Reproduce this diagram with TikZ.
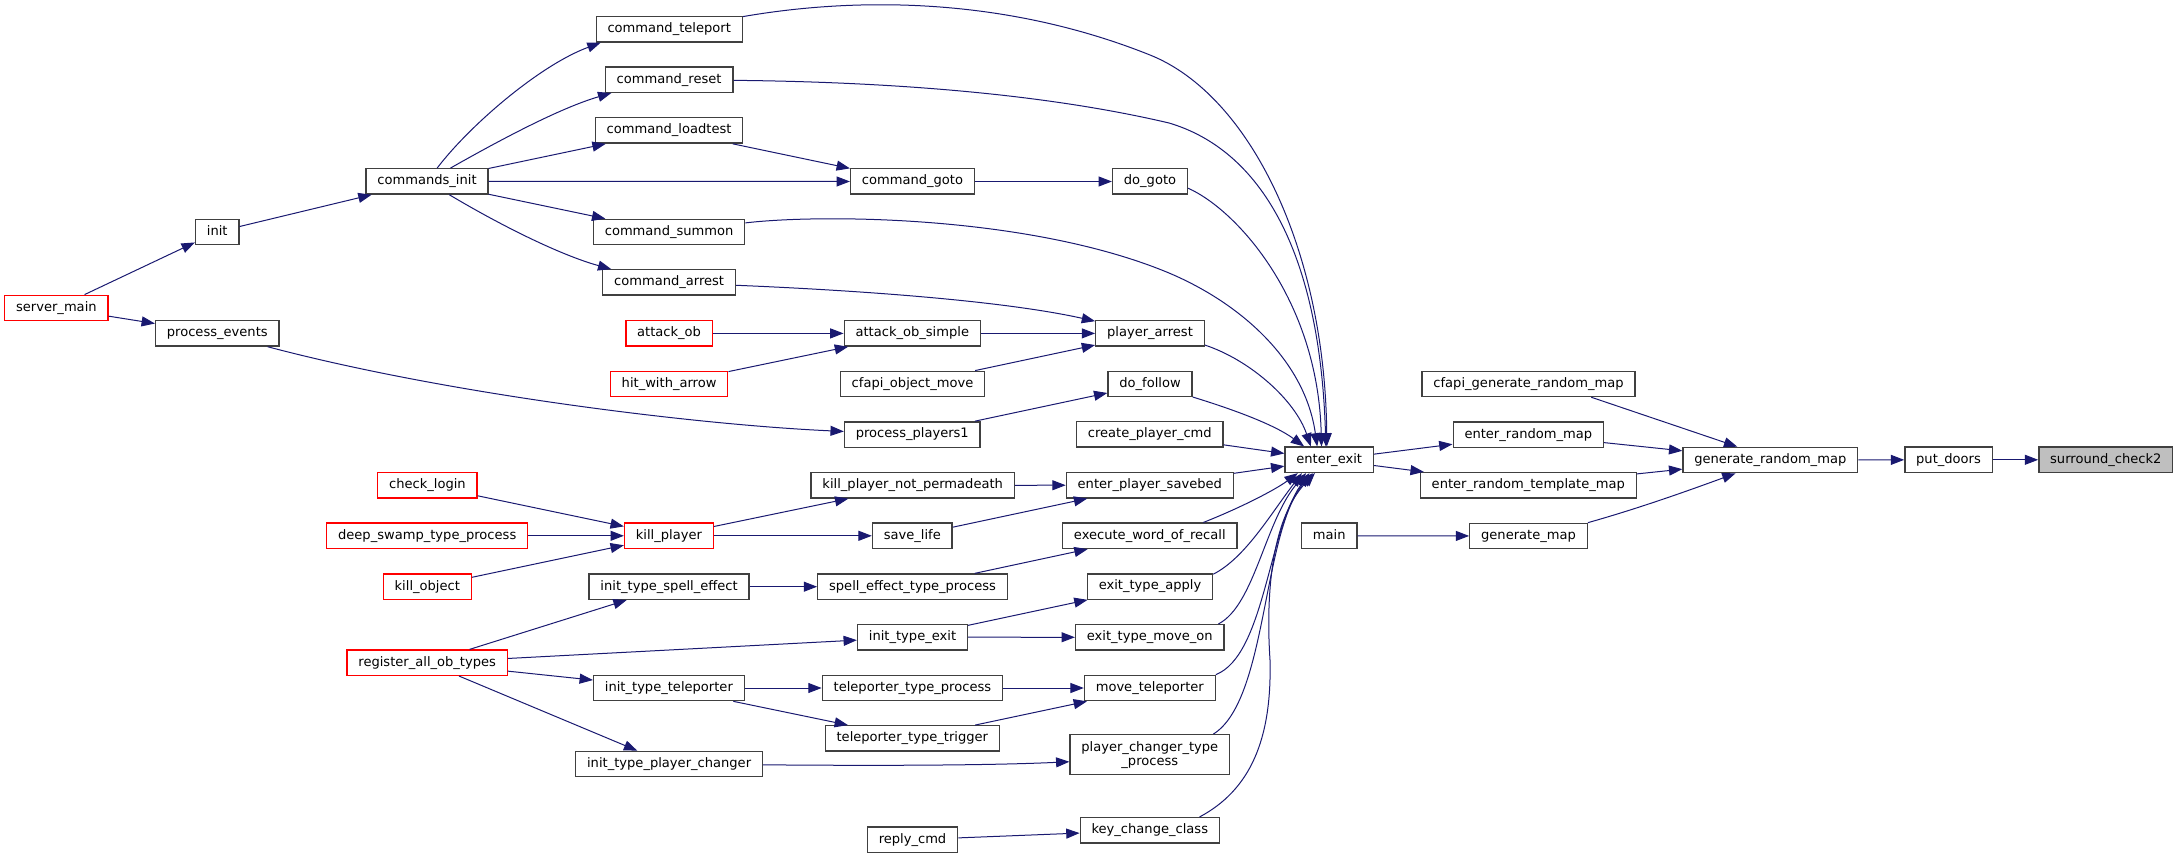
\documentclass[tikz,border=0pt]{standalone}
\usepackage{fontspec}
\setmainfont{DejaVu Sans}
\usepackage{xcolor}
\usepackage{tikz}
\usetikzlibrary{arrows.meta}
\definecolor{midnight}{HTML}{191970}
\definecolor{boxgray}{HTML}{404040}
\definecolor{selgray}{HTML}{BFBFBF}
\tikzstyle{fnbase}=[draw=boxgray,line width=1pt,fill=white,inner xsep=8.5pt,inner ysep=0pt,minimum height=19pt,font=\fontsize{9.8}{10.5}\selectfont]
\tikzstyle{fn}=[fnbase,text height=7.4pt,text depth=2.4pt]
\tikzstyle{fnred}=[fn,draw=red]
\tikzstyle{fnsel}=[fn,fill=selgray]
\tikzstyle{cl}=[draw=midnight,line width=.75pt,-{Triangle[length=10pt,width=7.5pt]}]
\begin{document}
\begin{tikzpicture}[x=0.75pt,y=-0.75pt]
	\useasboundingbox (0,0) rectangle (2177,859);
	\node[fn]    (CT)   at (669.2,29.4)  {command\_teleport};
	\node[fn]    (CR)   at (669.1,79.7)  {command\_reset};
	\node[fn]    (CL)   at (669.1,130.5) {command\_loadtest};
	\node[fn]    (CI)   at (427,181.4)   {commands\_init};
	\node[fn]    (CG)   at (912.5,181.5) {command\_goto};
	\node[fn]    (DG)   at (1150,181.5)  {do\_goto};
	\node[fn]    (IN)   at (217.2,231.9) {init};
	\node[fn]    (CS)   at (669.1,232)   {command\_summon};
	\node[fn]    (CA)   at (669.1,282.5) {command\_arrest};
	\node[fnred] (SM)   at (56.4,307.9)  {server\_main};
	\node[fn]    (PE)   at (217.3,333.4) {process\_events};
	\node[fnred] (AO)   at (669.1,333.4) {attack\_ob};
	\node[fn]    (AOS)  at (912.3,333.4) {attack\_ob\_simple};
	\node[fn]    (PA)   at (1150,333.4)  {player\_arrest};
	\node[fnred] (HWA)  at (669.1,383.9) {hit\_with\_arrow};
	\node[fn]    (COM)  at (912.5,383.9) {cfapi\_object\_move};
	\node[fn]    (DF)   at (1150,383.9)  {do\_follow};
	\node[fn]    (CGR)  at (1528.5,383.9) {cfapi\_generate\_random\_map};
	\node[fn]    (PP)   at (912.3,434.5) {process\_players1};
	\node[fn]    (CPC)  at (1149.8,434.4) {create\_player\_cmd};
	\node[fn]    (ERM)  at (1528.3,434.7) {enter\_random\_map};
	\node[fn]    (EE)   at (1329.2,459.8) {enter\_exit};
	\node[fn]    (GRM)  at (1770.3,460)  {generate\_random\_map};
	\node[fn]    (PD)   at (1948.5,459.8) {put\_doors};
	\node[fnsel] (SC)   at (2105.8,459.8) {surround\_check2};
	\node[fnred] (CHL)  at (427.4,485.3) {check\_login};
	\node[fn]    (KPN)  at (912.7,485.3) {kill\_player\_not\_permadeath};
	\node[fn]    (EPS)  at (1149.8,485.2) {enter\_player\_savebed};
	\node[fn]    (ERT)  at (1528.3,485.2) {enter\_random\_template\_map};
	\node[fnred] (DSP)  at (427.2,535.8) {deep\_swamp\_type\_process};
	\node[fnred] (KP)   at (668.9,535.8) {kill\_player};
	\node[fn]    (SL)   at (912.3,535.8) {save\_life};
	\node[fn]    (EWR)  at (1149.8,535.8) {execute\_word\_of\_recall};
	\node[fn]    (MN)   at (1329.2,535.8) {main};
	\node[fn]    (GM)   at (1528.5,536)  {generate\_map};
	\node[fnred] (KO)   at (427.3,586.7) {kill\_object};
	\node[fn]    (ITS)  at (669.1,586.7) {init\_type\_spell\_effect};
	\node[fn]    (SETP) at (912.5,586.7) {spell\_effect\_type\_process};
	\node[fn]    (ETA)  at (1150,586.5)  {exit\_type\_apply};
	\node[fn]    (ITE)  at (912.5,637.2) {init\_type\_exit};
	\node[fn]    (ETM)  at (1149.8,637.3) {exit\_type\_move\_on};
	\node[fnred] (RAO)  at (427.2,662.7) {register\_all\_ob\_types};
	\node[fn]    (ITT)  at (668.9,688)   {init\_type\_teleporter};
	\node[fn]    (TTP)  at (912.4,688)   {teleporter\_type\_process};
	\node[fn]    (MT)   at (1149.8,688)  {move\_teleporter};
	\node[fn]    (TTT)  at (912.3,738.4) {teleporter\_type\_trigger};
	\node[fnbase,align=center,minimum height=30pt] (PCT) at (1149.8,754.7) {player\_changer\_type\\\_process};
	\node[fn]    (ITP)  at (669.1,764)   {init\_type\_player\_changer};
	\node[fn]    (KCC)  at (1149.8,830.3) {key\_change\_class};
	\node[fn]    (RC)   at (912.5,839.7) {reply\_cmd};
	\draw[cl] (SM) -- (IN);
	\draw[cl] (SM) -- (PE);
	\draw[cl] (IN) -- (CI);
	\draw[cl] (CI) .. controls (470,125) and (540,65) .. (CT.191);
	\draw[cl] (CI) .. controls (500,140) and (560,108) .. (CR.193);
	\draw[cl] (CI) -- (CL);
	\draw[cl] (CI) -- (CG);
	\draw[cl] (CI) -- (CS);
	\draw[cl] (CI) .. controls (500,225) and (560,255) .. (CA.167);
	\draw[cl] (CL) -- (CG);
	\draw[cl] (CG) -- (DG);
	\draw[cl] (PE) .. controls (450,395) and (700,425) .. (PP);
	\draw[cl] (AO) -- (AOS);
	\draw[cl] (HWA) -- (AOS);
	\draw[cl] (CA) .. controls (850,290) and (1000,300) .. (PA);
	\draw[cl] (AOS) -- (PA);
	\draw[cl] (COM) -- (PA);
	\draw[cl] (PP) -- (DF);
	\draw[cl] (CHL) -- (KP);
	\draw[cl] (DSP) -- (KP);
	\draw[cl] (KO) -- (KP);
	\draw[cl] (KP) -- (KPN);
	\draw[cl] (KP) -- (SL);
	\draw[cl] (KPN) -- (EPS);
	\draw[cl] (SL) -- (EPS);
	\draw[cl] (RAO) -- (ITS);
	\draw[cl] (RAO) -- (ITE);
	\draw[cl] (RAO) -- (ITT);
	\draw[cl] (RAO) -- (ITP);
	\draw[cl] (ITS) -- (SETP);
	\draw[cl] (SETP) -- (EWR);
	\draw[cl] (ITE) -- (ETA);
	\draw[cl] (ITE) -- (ETM);
	\draw[cl] (ITT) -- (TTP);
	\draw[cl] (ITT) -- (TTT);
	\draw[cl] (TTP) -- (MT);
	\draw[cl] (TTT) -- (MT);
	\draw[cl] (ITP) .. controls (900,766) and (1000,765) .. (PCT.185);
	\draw[cl] (RC) -- (KCC);
	\draw[cl] (CT) .. controls (850,-2) and (1000,-5) .. (1150,55) .. controls (1250,95) and (1325,250) .. (EE.100);
	\draw[cl] (CR) .. controls (900,82) and (1050,95) .. (1169,123) .. controls (1260,150) and (1320,250) .. (EE.104);
	\draw[cl] (DG.-10) .. controls (1237,210) and (1318,300) .. (EE.120);
	\draw[cl] (CS) .. controls (820,214) and (1030,215) .. (1169,273) .. controls (1240,303) and (1305,360) .. (EE.132);
	\draw[cl] (PA.-12) .. controls (1250,360) and (1295,400) .. (EE.144);
	\draw[cl] (DF) .. controls (1235,410) and (1275,425) .. (EE.152);
	\draw[cl] (CPC) -- (EE);
	\draw[cl] (EPS) -- (EE);
	\draw[cl] (EWR.14) .. controls (1240,508) and (1275,490) .. (EE.203);
	\draw[cl] (ETA.11) .. controls (1245,558) and (1270,515) .. (EE.206);
	\draw[cl] (ETM.11) .. controls (1255,605) and (1265,520) .. (EE.210);
	\draw[cl] (MT.north east) .. controls (1265,655) and (1268,530) .. (EE.214);
	\draw[cl] (PCT.18) .. controls (1268,700) and (1262,530) .. (EE.219);
	\draw[cl] (KCC.15) .. controls (1250,790) and (1272,740) .. (1270,660) .. controls (1266,600) and (1270,520) .. (EE.223);
	\draw[cl] (EE) -- (ERM);
	\draw[cl] (EE) -- (ERT);
	\draw[cl] (ERM) -- (GRM);
	\draw[cl] (ERT) -- (GRM);
	\draw[cl] (CGR.-12) -- (GRM.158);
	\draw[cl] (GM.north east) .. controls (1640,508) and (1690,490) .. (GRM.201);
	\draw[cl] (MN) -- (GM);
	\draw[cl] (GRM) -- (PD);
	\draw[cl] (PD) -- (SC);
\end{tikzpicture}
\end{document}
